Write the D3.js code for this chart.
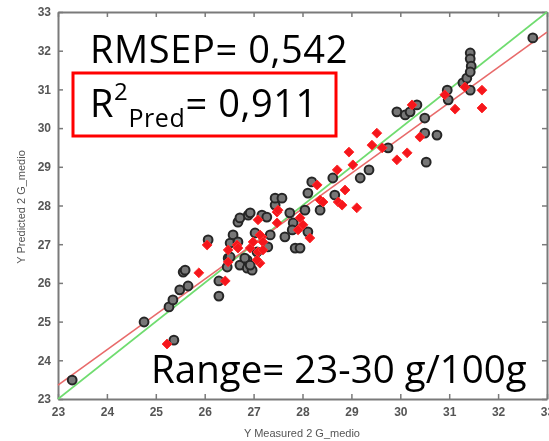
<!DOCTYPE html>
<html>
<head>
<meta charset="utf-8">
<script src="https://cdn.jsdelivr.net/npm/d3@7"></script>
<style>
  body { margin: 0; background: #fff; }
  svg { display: block; }
</style>
</head>
<body>
<div class="chart"></div>
<script>
// calibration samples (black circles): [measured, predicted]
const calMeasured = [23.29,24.76,25.27,25.37,25.35,25.56,25.49,25.66,26.07,26.29,26.29,26.48,25.60,26.58,26.52,26.46,26.72,26.87,26.97,26.87,
  26.68,26.89,27.17,27.27,27.44,27.03,27.29,27.34,26.82,26.93,27.07,27.44,27.58,27.64,27.74,27.81,27.79,27.85,27.95,28.05,
  28.11,28.19,28.11,28.36,28.62,28.66,29.18,29.36,29.75,30.53,29.93,30.10,30.20,30.34,30.50,30.50,30.75,30.96,30.98,31.28,
  31.36,31.43,31.43,31.43,31.45,31.43,32.71,26.72,26.93,26.68,26.52];
const calPredicted = [23.49,24.99,25.38,24.52,25.56,26.28,25.82,25.92,27.11,26.05,25.66,26.64,26.33,27.24,27.03,26.41,26.46,26.38,26.33,26.59,
  27.57,27.75,27.75,27.70,28.01,27.29,26.93,27.24,26.64,26.46,26.80,28.19,28.19,27.19,27.81,27.55,27.37,26.90,26.90,27.88,
  27.32,28.61,28.32,27.88,28.71,28.27,28.71,28.92,29.49,29.12,30.42,30.34,30.42,30.60,30.26,29.87,29.82,30.98,30.73,31.17,
  31.29,30.98,31.94,31.79,31.60,31.45,32.33,27.68,27.81,27.06,26.67];

// validation samples (red diamonds)
const valMeasured = [25.23,25.88,26.05,26.42,26.48,26.66,27.13,27.09,27.48,27.48,26.93,27.17,27.09,27.19,28.30,28.36,27.50,27.95,28.01,27.91,
  28.15,27.13,26.99,27.19,26.68,27.07,28.71,28.73,28.81,28.87,29.11,28.95,29.03,29.42,29.52,29.63,29.93,30.14,30.40,30.24,
  30.91,31.12,31.32,31.67,31.67,28.42,26.48];
const valPredicted = [24.42,26.26,26.98,26.05,26.85,26.98,26.51,27.63,27.83,27.55,26.90,27.19,26.80,27.06,28.53,28.14,27.88,27.68,27.50,27.37,
  27.16,27.24,27.06,26.85,26.90,26.59,28.92,28.09,28.01,28.40,27.94,29.38,29.05,29.56,29.87,29.49,29.18,29.36,29.77,30.60,
  30.86,30.49,31.06,30.98,30.52,28.09,26.54];

const idealLine = [[23, 23], [33, 33]];
const fitLine = [[23, 23.36], [33, 32.48]];
const ticks = [23,24,25,26,27,28,29,30,31,32,33];

const xLabel = "Y Measured 2 G_medio";
const yLabel = "Y Predicted 2 G_medio";

const outerWidth = 549, outerHeight = 441;
const margin = {left:58, right:2, top:12, bottom:42};

const svg = d3.select(".chart").append("svg")
  .attr("width", outerWidth)
  .attr("height", outerHeight);

const defs = svg.append("defs");
defs.append("filter").attr("id","soft")
  .append("feGaussianBlur").attr("stdDeviation", 0.55);

const xScale = d3.scaleLinear().domain([23,33]).range([margin.left, outerWidth - margin.right]);
const yScale = d3.scaleLinear().domain([23,33]).range([outerHeight - margin.bottom, margin.top]);

const plot = svg.append("g").attr("filter","url(#soft)");

// axes (ticks pointing inward, box on all sides)
const axisColor = "#7a7a7a";
const xAxis = d3.axisBottom(xScale).tickValues(ticks).tickSizeInner(-5).tickSizeOuter(0).tickPadding(8);
const xTop = d3.axisTop(xScale).tickValues(ticks).tickSizeInner(-5).tickSizeOuter(0).tickFormat("");
const yAxis = d3.axisLeft(yScale).tickValues(ticks).tickSizeInner(-5).tickSizeOuter(0).tickPadding(7);
const yRight = d3.axisRight(yScale).tickValues(ticks).tickSizeInner(-5).tickSizeOuter(0).tickFormat("");

function styleAxis(sel){
  sel.select(".domain").attr("stroke", axisColor).attr("stroke-width", 2);
  sel.selectAll(".tick line").attr("stroke", axisColor).attr("stroke-width", 1.5);
  sel.selectAll(".tick text").attr("fill", "#555").style("font-family","Arial, 'Liberation Sans', sans-serif")
    .style("font-size","12px").style("font-weight","bold");
}

plot.append("g").attr("transform", `translate(0,${yScale(23)})`).call(xAxis).call(styleAxis);
plot.append("g").attr("transform", `translate(0,${yScale(33)})`).call(xTop).call(styleAxis);
plot.append("g").attr("transform", `translate(${xScale(23)},0)`).call(yAxis).call(styleAxis);
plot.append("g").attr("transform", `translate(${xScale(33)},0)`).call(yRight).call(styleAxis);

// reference lines
const line = d3.line().x(d=>xScale(d[0])).y(d=>yScale(d[1]));
plot.append("path").datum(idealLine).attr("d", line)
  .attr("stroke","#6fdc6f").attr("stroke-width",1.6).attr("fill","none");
plot.append("path").datum(fitLine).attr("d", line)
  .attr("stroke","#e86a6a").attr("stroke-width",1.6).attr("fill","none");

// calibration circles
plot.selectAll("circle.cal")
  .data(calMeasured.map((m,i)=>[m, calPredicted[i]]))
  .enter().append("circle")
  .attr("class","cal")
  .attr("cx", d=>xScale(d[0]))
  .attr("cy", d=>yScale(d[1]))
  .attr("r", 4.4)
  .attr("fill","#777")
  .attr("stroke","#262626")
  .attr("stroke-width",2);

// validation diamonds
const diamond = d3.symbol().type(d3.symbolDiamond2).size(62);
plot.selectAll("path.val")
  .data(valMeasured.map((m,i)=>[m, valPredicted[i]]))
  .enter().append("path")
  .attr("class","val")
  .attr("d", diamond)
  .attr("transform", d=>`translate(${xScale(d[0])},${yScale(d[1])})`)
  .attr("fill","#f5161b")
  .attr("stroke","#ff3030")
  .attr("stroke-width",1);

// axis titles
plot.append("text")
  .attr("x", 302).attr("y", 437)
  .attr("text-anchor","middle")
  .attr("fill","#555")
  .style("font-family","Arial, 'Liberation Sans', sans-serif")
  .style("font-size","11px")
  .text(xLabel);

plot.append("text")
  .attr("transform","translate(25,207) rotate(-90)")
  .attr("text-anchor","middle")
  .attr("fill","#555")
  .style("font-family","Arial, 'Liberation Sans', sans-serif")
  .style("font-size","11px")
  .text(yLabel);

// annotations
const font = "'Open Sans', 'Noto Sans', sans-serif";
svg.append("text")
  .attr("x", 90).attr("y", 63)
  .style("font-family", font).style("font-size","38px").style("letter-spacing","0.6px").attr("fill","#000")
  .text("RMSEP= 0,542");

svg.append("rect")
  .attr("x", 73).attr("y", 73).attr("width", 263).attr("height", 63)
  .attr("fill","none").attr("stroke","#ff0000").attr("stroke-width",3);

const r2 = svg.append("text")
  .attr("x", 90).attr("y", 117)
  .style("font-family", font).style("font-size","38px").style("letter-spacing","0.6px").attr("fill","#000");
r2.append("tspan").text("R");
r2.append("tspan").attr("dy", -17).style("font-size","24px").text("2");
r2.append("tspan").attr("dy", 27).style("font-size","25px").text("Pred");
r2.append("tspan").attr("dy", -10).text("= 0,911");

svg.append("text")
  .attr("x", 151).attr("y", 383)
  .style("font-family", font).style("font-size","38.5px").attr("fill","#000")
  .text("Range= 23-30 g/100g");
</script>
</body>
</html>
